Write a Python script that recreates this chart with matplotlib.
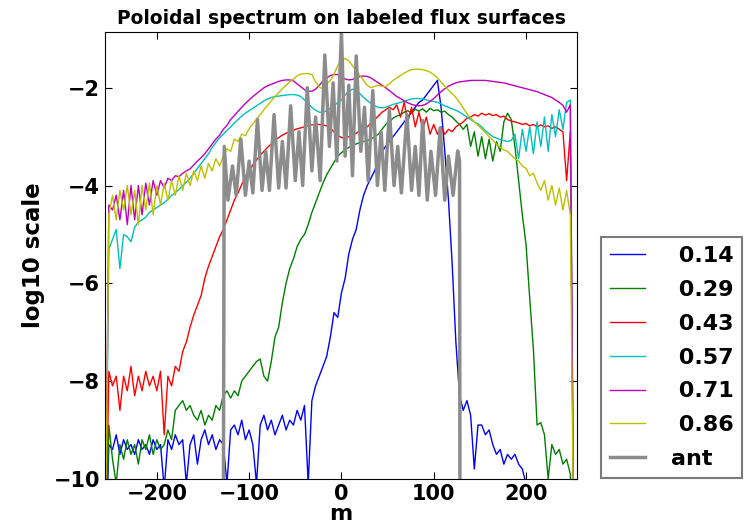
import numpy as np
import matplotlib
matplotlib.use("Agg")
import matplotlib.pyplot as plt

# poloidal mode grid for the flux-surface spectra (every 4th m)
m = np.arange(-256, 256, 4)

labels = [" 0.14", " 0.29", " 0.43", " 0.57", " 0.71", " 0.86"]
colors = ["b", "g", "r", "c", "m", "y"]

# log10 amplitude, rows of 16 points = 64 m each
s014 = [
    -12, -9.3, -9.4, -9.1, -9.5, -9.2, -9.4, -9.3, -9.5, -9.2, -9.4, -9.3, -9.5, -9.2, -9.4, -9.3,
    -10.2, -9.2, -9.4, -9.1, -9.3, -9.2, -10.1, -9.3, -9.1, -9.7, -9.2, -9.0, -9.3, -9.1, -9.4, -9.2,
    -9.3, -10.1, -9.0, -8.9, -9.1, -8.8, -9.2, -9.0, -9.3, -10.1, -8.9, -8.7, -9.0, -8.8, -9.1, -8.9,
    -8.7, -9.0, -8.8, -8.9, -8.6, -8.8, -8.5, -10.1, -8.4, -8.1, -7.9, -7.7, -7.5, -7.1, -6.6, -6.7,
    -6.2, -5.9, -5.4, -5.1, -4.9, -4.5, -4.2, -4.0, -3.85, -3.7, -3.5, -3.3, -3.2, -3.1, -3.0, -2.9,
    -2.8, -2.7, -2.6, -2.5, -2.4, -2.3, -2.25, -2.15, -2.05, -1.95, -1.85, -2.4, -3.3, -4.3, -5.6, -7.2,
    -8.3, -8.6, -8.4, -8.7, -9.8, -8.9, -8.9, -9.1, -9.0, -9.3, -9.5, -9.4, -9.7, -9.5, -9.6, -9.5,
    -9.7, -9.8, -10.1, -10.4, -10.7, -11, -11, -11, -11, -11, -11, -11, -11, -11, -11, -12,
]
s029 = [
    -12, -8.9, -9.6, -10.1, -9.3, -9.6, -9.2, -9.5, -9.3, -9.7, -9.2, -9.4, -9.1, -9.5, -9.2, -9.4,
    -9.3, -9.0, -9.2, -8.6, -8.5, -8.4, -8.6, -8.5, -8.7, -8.8, -8.6, -8.9, -8.7, -8.8, -8.5, -8.6,
    -8.3, -8.2, -8.35, -8.2, -8.3, -8.0, -7.9, -7.8, -7.7, -7.6, -7.55, -7.9, -8.0, -7.6, -7.1, -6.9,
    -6.4, -6.0, -5.7, -5.5, -5.25, -5.1, -5.0, -4.8, -4.55, -4.35, -4.15, -3.95, -3.78, -3.65, -3.52, -3.4,
    -3.33, -3.27, -3.22, -3.18, -3.15, -3.12, -3.1, -3.08, -3.05, -3.0, -2.95, -2.85, -2.75, -2.7, -2.62, -2.58,
    -2.55, -2.5, -2.47, -2.52, -2.44, -2.48, -2.43, -2.5, -2.42, -2.47, -2.45, -2.5, -2.48, -2.55, -2.6, -2.68,
    -2.75, -2.85, -2.75, -3.2, -2.9, -3.4, -3.0, -3.45, -3.05, -3.5, -3.1, -3.3, -2.7, -2.52, -2.65, -3.2,
    -3.9, -4.6, -5.2, -6.3, -7.35, -8.9, -8.85, -9.1, -10.0, -9.3, -9.5, -9.4, -9.7, -9.6, -9.9, -12,
]
s043 = [
    -12, -7.8, -8.1, -7.9, -8.6, -7.9, -8.2, -7.7, -8.3, -7.9, -8.2, -7.8, -8.1, -7.9, -8.2, -7.8,
    -9.1, -7.9, -8.1, -7.7, -7.8, -7.4, -7.2, -6.9, -6.65, -6.45, -6.25, -5.9, -5.65, -5.45, -5.25, -5.05,
    -4.9, -4.7, -4.5, -4.3, -4.15, -3.98, -3.82, -3.7, -3.58, -3.48, -3.38, -3.3, -3.22, -3.15, -3.08, -3.02,
    -2.97, -2.93, -2.9, -2.87, -2.84, -2.82, -2.8, -2.78, -2.76, -2.75, -2.75, -2.76, -2.78, -2.83, -2.9, -2.97,
    -3.02, -3.03, -3.0, -2.97, -2.93, -2.88, -2.84, -2.8, -2.72, -2.65, -2.58, -2.5, -2.45, -2.4, -2.45, -2.35,
    -2.6, -2.3, -2.7, -2.4, -2.8, -2.5, -2.85, -2.6, -2.95, -2.75, -2.95, -2.8, -2.95, -2.85, -2.9, -2.8,
    -2.75, -2.7, -2.62, -2.6, -2.55, -2.58, -2.52, -2.56, -2.53, -2.57, -2.55, -2.6, -2.58, -2.65, -2.68, -2.7,
    -2.72, -2.75, -2.73, -2.78, -2.75, -2.8, -2.76, -2.8, -2.78, -2.83, -2.8, -2.85, -2.9, -3.9, -2.9, -12,
]
s057 = [
    -12, -5.3, -5.1, -4.9, -5.7, -5.0, -5.05, -5.15, -4.85, -4.75, -4.7, -4.65, -4.55, -4.5, -4.45, -4.4,
    -4.35, -4.28, -4.2, -4.15, -4.08, -4.0, -3.93, -3.85, -3.75, -3.65, -3.55, -3.45, -3.35, -3.22, -3.12, -3.02,
    -2.95, -2.87, -2.8, -2.72, -2.65, -2.58, -2.52, -2.47, -2.42, -2.37, -2.32, -2.27, -2.23, -2.2, -2.18, -2.17,
    -2.16, -2.15, -2.14, -2.14, -2.15, -2.18, -2.25, -2.33, -2.4, -2.46, -2.5, -2.5, -2.47, -2.42, -2.37, -2.3,
    -2.25, -2.15, -2.07, -2.03, -2.05, -2.12, -2.2, -2.26, -2.32, -2.37, -2.4, -2.41, -2.4, -2.37, -2.34, -2.32,
    -2.3, -2.28, -2.25, -2.23, -2.22, -2.22, -2.23, -2.25, -2.27, -2.28, -2.3, -2.33, -2.37, -2.4, -2.43, -2.46,
    -2.5, -2.55, -2.6, -2.65, -2.7, -2.74, -2.8, -2.88, -2.94, -3.0, -3.03, -3.06, -3.08, -3.1, -3.08, -2.95,
    -3.45, -2.85, -3.3, -2.8, -3.35, -2.7, -3.2, -2.6, -3.3, -2.55, -3.0, -2.45, -2.85, -2.3, -2.25, -12,
]
s071 = [
    -12, -4.4, -4.5, -4.2, -4.7, -4.1, -4.8, -4.0, -4.7, -4.0, -4.6, -3.95, -4.4, -3.9, -4.2, -3.9,
    -4.05, -3.85, -3.9, -3.8, -3.82, -3.75, -3.7, -3.66, -3.58, -3.5, -3.43, -3.35, -3.25, -3.15, -3.05, -2.97,
    -2.85, -2.77, -2.65, -2.57, -2.48, -2.4, -2.32, -2.25, -2.18, -2.12, -2.06, -2.0, -1.96, -1.93, -1.9, -1.87,
    -1.85, -1.84, -1.84, -1.86, -1.92, -1.98, -2.04, -2.07, -2.07, -2.03, -1.95, -1.87, -1.8, -1.75, -1.73, -1.73,
    -1.78, -1.82, -1.84, -1.83, -1.8, -1.77, -1.76, -1.77, -1.8, -1.85, -1.9, -1.95, -2.0, -2.06, -2.12, -2.18,
    -2.22, -2.27, -2.31, -2.34, -2.36, -2.37, -2.36, -2.33, -2.28, -2.22, -2.15, -2.08, -2.02, -1.97, -1.93, -1.9,
    -1.88, -1.87, -1.86, -1.85, -1.85, -1.85, -1.85, -1.85, -1.86, -1.87, -1.88, -1.89, -1.9, -1.92, -1.94, -1.96,
    -1.98, -2.0, -2.02, -2.04, -2.06, -2.08, -2.11, -2.14, -2.17, -2.2, -2.25, -2.3, -2.36, -2.5, -2.35, -12,
]
s086 = [
    -12, -4.6, -4.2, -4.7, -4.1, -4.5, -4.0, -4.6, -4.1, -4.8, -4.0, -4.5, -3.95, -4.6, -4.0, -4.4,
    -3.95, -4.3, -3.9, -4.2, -3.8, -4.1, -3.75, -4.0, -3.7, -3.9, -3.6, -3.85, -3.55, -3.7, -3.45, -3.6,
    -3.4, -3.25, -3.3, -3.05, -3.1, -2.95, -2.98, -2.84, -2.74, -2.64, -2.55, -2.45, -2.36, -2.27, -2.18, -2.1,
    -2.02, -1.95, -1.88, -1.82, -1.76, -1.72, -1.71, -1.71, -1.73, -1.88, -1.98, -2.03, -1.92, -1.85, -1.72, -1.55,
    -1.45, -1.4, -1.45, -1.55, -1.65, -1.75, -1.85, -1.95, -2.0, -1.97, -1.95, -1.97, -1.98, -1.92, -1.85, -1.8,
    -1.75, -1.7, -1.66, -1.63, -1.62, -1.62, -1.63, -1.65, -1.68, -1.73, -1.8, -1.88, -1.97, -2.05, -2.12, -2.2,
    -2.3, -2.42, -2.53, -2.62, -2.7, -2.77, -2.84, -2.92, -3.0, -3.07, -3.15, -3.22, -3.27, -3.3, -3.38, -3.45,
    -3.5, -3.6, -3.65, -3.8, -3.75, -3.95, -4.1, -3.9, -4.3, -4.0, -4.4, -4.05, -4.5, -4.1, -4.6, -12,
]

# antenna spectrum, read at its peaks and troughs
m_ant = [-129, -127, -123, -118, -114, -109, -104, -100, -96, -91, -86, -82, -78, -73, -68, -64,
         -60, -55, -50, -46, -42, -37, -32, -28, -23, -18, -13, -9, -5, 0, 4, 8, 12, 16, 21, 25,
         29, 34, 39, 43, 47, 52, 57, 61, 65, 71, 76, 80, 84, 88, 93, 97, 102, 107, 112, 116,
         121, 126, 128, 129]
ant = [-20, -3.2, -4.3, -3.6, -4.2, -3.05, -4.2, -3.5, -4.15, -2.65, -4.1, -3.3, -4.1, -2.55, -4.05, -3.1,
       -4.05, -2.37, -3.9, -2.9, -4.0, -2.0, -3.7, -2.6, -3.9, -1.33, -3.2, -1.9, -3.5, -0.86, -3.4, -1.95,
       -3.8, -1.35, -3.3, -2.4, -3.9, -2.06, -4.0, -2.9, -4.1, -2.47, -4.0, -3.2, -4.15, -2.55, -4.1, -3.2,
       -4.2, -2.67, -4.3, -3.3, -4.2, -2.82, -4.3, -3.4, -4.2, -3.29, -3.5, -20]

series = [s014, s029, s043, s057, s071, s086]

fig = plt.figure(figsize=(7.51, 5.25), dpi=100)
ax = fig.add_axes([0.14, 0.088, 0.628, 0.851])
for vals, c, lab in zip(series, colors, labels):
    ax.plot(m, vals, color=c, lw=1.0, label=lab)
ax.plot(m_ant, ant, color="0.55", lw=2.5, label="ant")

ax.set_xlim(-256, 255)
ax.set_ylim(-10, -0.86)
ax.set_xticks([-200, -100, 0, 100, 200])
ax.set_yticks([-10, -8, -6, -4, -2])
ax.tick_params(direction="in", top=True, right=True, length=5, labelsize=15)
for t in ax.get_xticklabels() + ax.get_yticklabels():
    t.set_fontweight("bold")
ax.set_xlabel("m", fontsize=16, fontweight="bold", labelpad=0)
ax.set_ylabel("log10 scale", fontsize=16.5, fontweight="bold", labelpad=6)
ax.set_title("Poloidal spectrum on labeled flux surfaces", fontsize=13.4, fontweight="bold")

leg = fig.legend(loc="lower left", bbox_to_anchor=(0.80, 0.09), borderaxespad=0,
                 prop={"size": 16, "weight": "bold"}, handlelength=1.6,
                 handletextpad=1.15, labelspacing=0.62, fancybox=False)
leg.get_frame().set_edgecolor("0.35")
leg.get_frame().set_linewidth(1.5)

fig.savefig("out.png", dpi=100)
